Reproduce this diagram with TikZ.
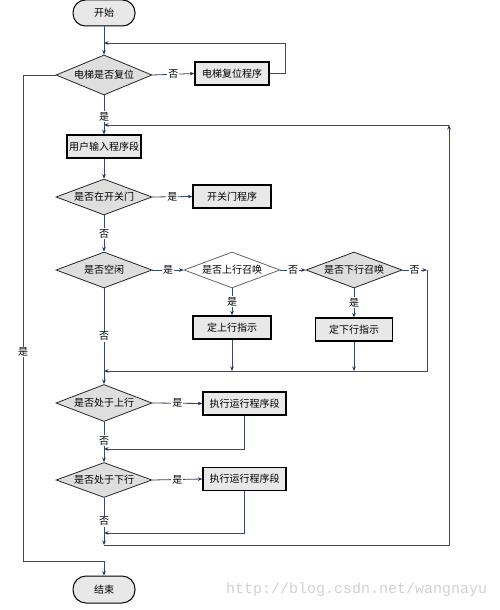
\documentclass[tikz,border=0pt]{standalone}
\usepackage{fontspec}
\setmainfont{Noto Sans CJK SC}
\newfontfamily\wmfont{Liberation Mono}
\usetikzlibrary{shapes.geometric,arrows.meta}
\definecolor{linec}{RGB}{55,75,105}
\definecolor{arrc}{RGB}{30,45,90}
\definecolor{boxfill}{RGB}{232,232,232}
\definecolor{dfill}{RGB}{222,222,222}
\begin{document}
\begin{tikzpicture}[x=1pt,y=-1pt,
  every node/.style={font=\fontsize{10}{12}\selectfont, inner sep=0pt},
  termbox/.style={draw=black, line width=1pt, fill=boxfill, rounded corners=12.5pt, minimum width=62pt, minimum height=26pt},
  procbox/.style={draw=black, line width=1.3pt, fill=boxfill, minimum height=23pt},
  decis/.style={diamond, draw=black!85, line width=0.8pt, fill=dfill, shape aspect=2.67, minimum width=96pt, minimum height=36pt},
  arr/.style={draw=linec, line width=0.8pt, -{Stealth[length=4.5pt,width=3.5pt,color=arrc]}},
  ln/.style={draw=linec, line width=0.8pt},
  lbl/.style={fill=white, inner sep=1pt}]
\useasboundingbox (0,0) rectangle (500,610);

% nodes
\node[termbox] (start) at (104,13) {开始};
\node[decis, minimum height=40pt] (d1) at (104,75) {电梯是否复位};
\node[procbox, minimum width=74pt] (reset) at (232,73.5) {电梯复位程序};
\node[procbox, minimum width=74pt] (user) at (104,146.5) {用户输入程序段};
\node[decis] (d2) at (104,197) {是否在开关门};
\node[procbox, minimum width=78pt] (door) at (232,196.5) {开关门程序};
\node[decis] (d3) at (104,270) {是否空闲};
\node[decis, fill=white, draw=black!60] (d4) at (232,270) {是否上行召唤};
\node[decis] (d5) at (354,270) {是否下行召唤};
\node[procbox, minimum width=78pt] (upb) at (232,327.5) {定上行指示};
\node[procbox, minimum width=77pt] (downb) at (354,329.5) {定下行指示};
\node[decis, minimum height=37pt] (d6) at (104,403) {是否处于上行};
\node[procbox, minimum width=83pt] (ex1) at (244.5,403.5) {执行运行程序段};
\node[decis, minimum height=35pt] (d7) at (104,480) {是否处于下行};
\node[procbox, minimum width=83pt] (ex2) at (244.5,479) {执行运行程序段};
\node[termbox, minimum height=27pt, rounded corners=13pt] (stop) at (104,589.5) {结束};
\node[text=black!18, font=\wmfont\fontsize{15}{15}\selectfont, anchor=west] (wm) at (226,590) {http://blog.csdn.net/wangnayu};

% coordinates
\coordinate (m1) at (104,43);
\coordinate (m2) at (104,125);
\coordinate (r5) at (427,270);
\coordinate (m3) at (104,371);
\coordinate (m4) at (104,449);
\coordinate (m5) at (104,533);
\coordinate (m6) at (104,545);
\coordinate (c1) at (449,125);
\coordinate (lc) at (23,561);

% connectors
\draw[arr] (start) -- (d1);
\draw[arr] (d1.east) -- node[lbl]{否} (reset.west);
\draw[arr] (reset.east) -- ++(16,0) |- (m1);
\draw[arr] (d1.south) -- node[lbl, pos=0.55]{是} (user.north);
\draw[arr] (c1) -- (m2);
\draw[arr] (user) -- (d2);
\draw[arr] (d2.east) -- node[lbl]{是} (door.west);
\draw[arr] (d2.south) -- node[lbl, pos=0.5]{否} (d3.north);
\draw[arr] (d3.east) -- node[lbl]{是} (d4.west);
\draw[arr] (d4.east) -- node[lbl]{否} (d5.west);
\draw[arr] (d5.east) -- node[lbl]{否} (r5);
\draw[arr] (r5) |- (m3);
\draw[arr] (d4.south) -- node[lbl]{是} (upb.north);
\draw[arr] (d5.south) -- node[lbl]{是} (downb.north);
\draw[arr] (upb.south) -- (upb.south |- m3);
\draw[arr] (downb.south) -- (downb.south |- m3);
\draw[arr] (d3.south) -- node[lbl, pos=0.5]{否} (d6.north);
\draw[arr] (d6.east) -- node[lbl]{是} (ex1.west);
\draw[arr] (ex1.south) |- (m4);
\draw[arr] (d6.south) -- node[lbl, pos=0.47]{否} (d7.north);
\draw[arr] (d7.east) -- node[lbl]{是} (ex2.west);
\draw[arr] (ex2.south) |- (m5);
\draw[arr] (d7.south) -- node[lbl, pos=0.5]{否} (m6);
\draw[arr] (m6) -| (c1);
\draw[ln] (d1.west) -| node[lbl, pos=0.785]{是} (lc);
\draw[arr] (lc) -| (stop.north);
\end{tikzpicture}
\end{document}
